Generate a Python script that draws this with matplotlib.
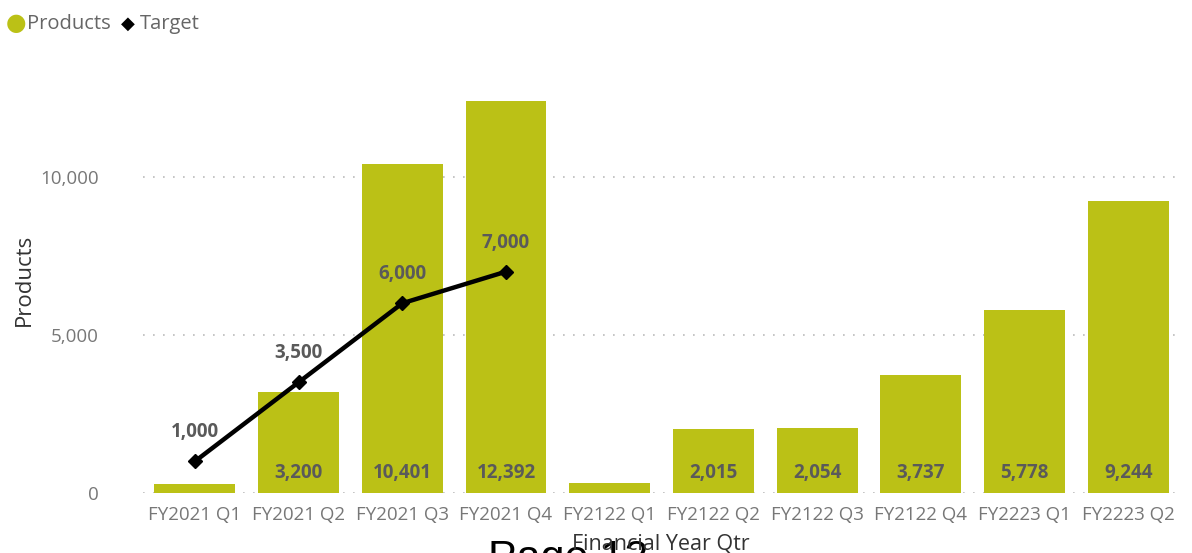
import matplotlib.pyplot as plt
import numpy as np

plt.rcParams['font.family'] = ['Open Sans', 'DejaVu Sans']

# quarterly products vs target
quarters = ['FY2021 Q1', 'FY2021 Q2', 'FY2021 Q3', 'FY2021 Q4', 'FY2122 Q1',
            'FY2122 Q2', 'FY2122 Q3', 'FY2122 Q4', 'FY2223 Q1', 'FY2223 Q2']
products = [290, 3200, 10401, 12392, 320, 2015, 2054, 3737, 5778, 9244]
target_quarters = quarters[:4]
target = [1000, 3500, 6000, 7000]

bar_col = '#BBC116'
lbl_col = '#5a5a5a'

W, H = 1192, 553
fig = plt.figure(figsize=(W / 100, H / 100), dpi=100)
ax = fig.add_axes([0.12, 0.1085, 0.87, 0.772])

x = np.arange(len(quarters))
ax.bar(x, products, width=0.78, color=bar_col, zorder=2)

# bar labels sit inside the base of each bar (small ones skipped)
for xi, v in zip(x, products):
    if v < 1000:
        continue
    ax.annotate(f'{v:,}', (xi, 0), xytext=(0, 20), textcoords='offset pixels',
                ha='center', va='center', fontsize=13.5, fontweight='bold',
                color=lbl_col, zorder=4)

tx = [quarters.index(q) for q in target_quarters]
ax.plot(tx, target, color='black', lw=3.2, marker='D', markersize=7, zorder=3)
for xi, v in zip(tx, target):
    ax.annotate(f'{v:,}', (xi, v), xytext=(0, 29), textcoords='offset pixels',
                ha='center', va='center', fontsize=13.5, fontweight='bold',
                color=lbl_col, zorder=4)

ax.set_xlim(-0.5, len(quarters) - 0.5)
ax.set_ylim(0, 13500)
ax.set_yticks([0, 5000, 10000])
ax.set_yticklabels(['0', '5,000', '10,000'])
ax.set_xticks(x)
ax.set_xticklabels(quarters)
ax.tick_params(length=0, labelsize=13.5, colors='#777777', pad=9.5)
ax.tick_params(axis='y', pad=32)
for s in ax.spines.values():
    s.set_visible(False)
ax.yaxis.grid(True, linestyle=(0, (1, 5)), color='#bbbbbb', lw=1.2, zorder=0)
ax.set_axisbelow(True)

ax.set_ylabel('Products', fontsize=16, color='#333333')
ax.yaxis.set_label_coords(-0.104, 0.5)

# page marker text behind the axis title
fig.text(488 / W, -0.031, 'Page 12', fontsize=31, color='black',
         family='Liberation Sans', ha='left', va='baseline', zorder=1)
fig.text(661 / W, 1 - 544 / H, 'Financial Year Qtr', fontsize=15.5, color='#333333',
         ha='center', va='center', zorder=5)

# legend row
ly = 1 - 24 / H
fig.text(6 / W, ly, '\u25CF', fontsize=17, color=bar_col, ha='left', va='center')
fig.text(27 / W, ly, 'Products', fontsize=14.5, color='#666666', ha='left', va='center')
fig.text(121 / W, ly, '\u25C6', fontsize=13, color='black', ha='left', va='center')
fig.text(140 / W, ly, 'Target', fontsize=14.5, color='#666666', ha='left', va='center')

fig.savefig('out.png', dpi=100)
